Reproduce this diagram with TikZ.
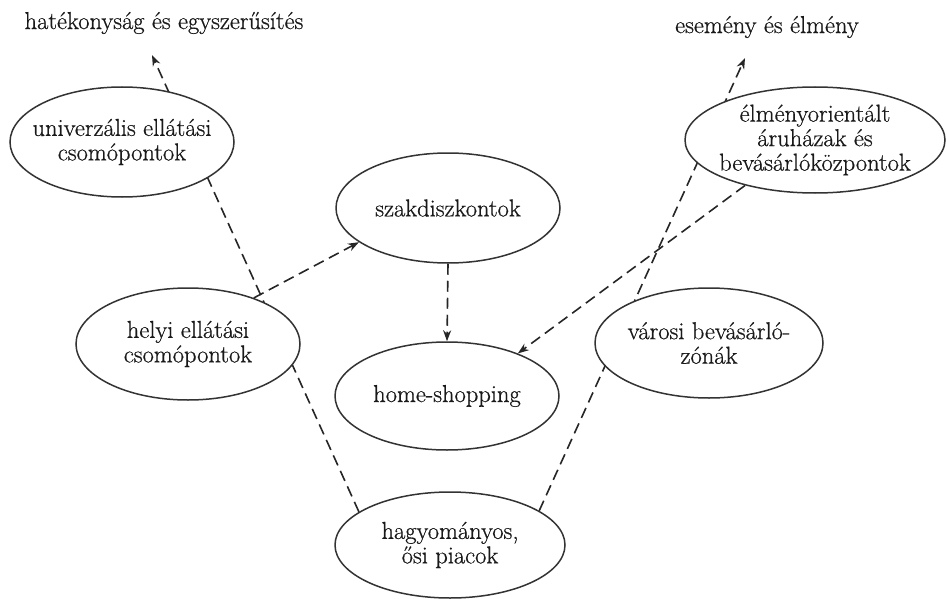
\documentclass[tikz,border=0pt]{standalone}
\usepackage{fontspec}
\setmainfont{Latin Modern Roman}
\newfontfamily\lblfont{Latin Modern Roman}[FakeBold=0.6]
\usetikzlibrary{shapes.geometric,arrows.meta}
\pgfdeclarelayer{background}
\pgfsetlayers{background,main}
\begin{document}
\begin{tikzpicture}[x=1pt,y=-1pt,
  bub/.style={ellipse, draw=black!80, line width=1.5pt, fill=white, inner sep=0pt},
  txt/.style={font=\lblfont\fontsize{24.5}{24.5}\selectfont, text=black!90, align=center, inner sep=0pt},
  conn/.style={line width=1.6pt, dash pattern=on 11pt off 6pt, draw=black!85},
  arr/.style={conn, -{Stealth[length=11pt,width=8pt]}}]
\useasboundingbox (0,0) rectangle (947,599);
% ellipses
\node[bub, minimum width=224pt, minimum height=110pt] (univ) at (122,142) {};
\node[txt] (univ-t) at (univ.center) {univerzális ellátási\\csomópontok};
\node[bub, minimum width=224pt, minimum height=110pt] (szak) at (448,208) {};
\node[txt] (szak-t) at (szak.center) {szakdiszkontok};
\node[bub, minimum width=260pt, minimum height=106pt] (elm) at (815,140) {};
\node[txt] (elm-t) at (elm.center) {élményorientált\\áruházak és\\bevásárlóközpontok};
\node[bub, minimum width=224pt, minimum height=112pt] (helyi) at (188,344) {};
\node[txt] (helyi-t) at (helyi.center) {helyi ellátási\\csomópontok};
\node[bub, minimum width=224pt, minimum height=108pt] (home) at (447,396) {};
\node[txt] (home-t) at (home.center) {home-shopping};
\node[bub, minimum width=228pt, minimum height=110pt] (varosi) at (709,343) {};
\node[txt] (varosi-t) at (varosi.center) {városi bevásárló-\\zónák};
\node[bub, minimum width=230pt, minimum height=106pt] (hagy) at (450,545) {};
\node[txt] (hagy-t) at (hagy.center) {hagyományos,\\ősi piacok};
% top labels
\node[txt] (tl) at (164,23) {hatékonyság és egyszerűsítés};
\node[txt] (tr) at (767,27) {esemény és élmény};
\coordinate (tipL) at (152,55);
\coordinate (tipR) at (745,58);
% long lines behind
\begin{pgfonlayer}{background}
\draw[arr] (hagy.160) -- (tipL);
\draw[arr] (hagy.21) -- (tipR);
\end{pgfonlayer}
% arrows
\draw[arr] (helyi.35) -- (szak.201);
\draw[arr] (szak.south) -- (home.north);
\draw[arr] (elm.213) -- (home.31);
\end{tikzpicture}
\end{document}
